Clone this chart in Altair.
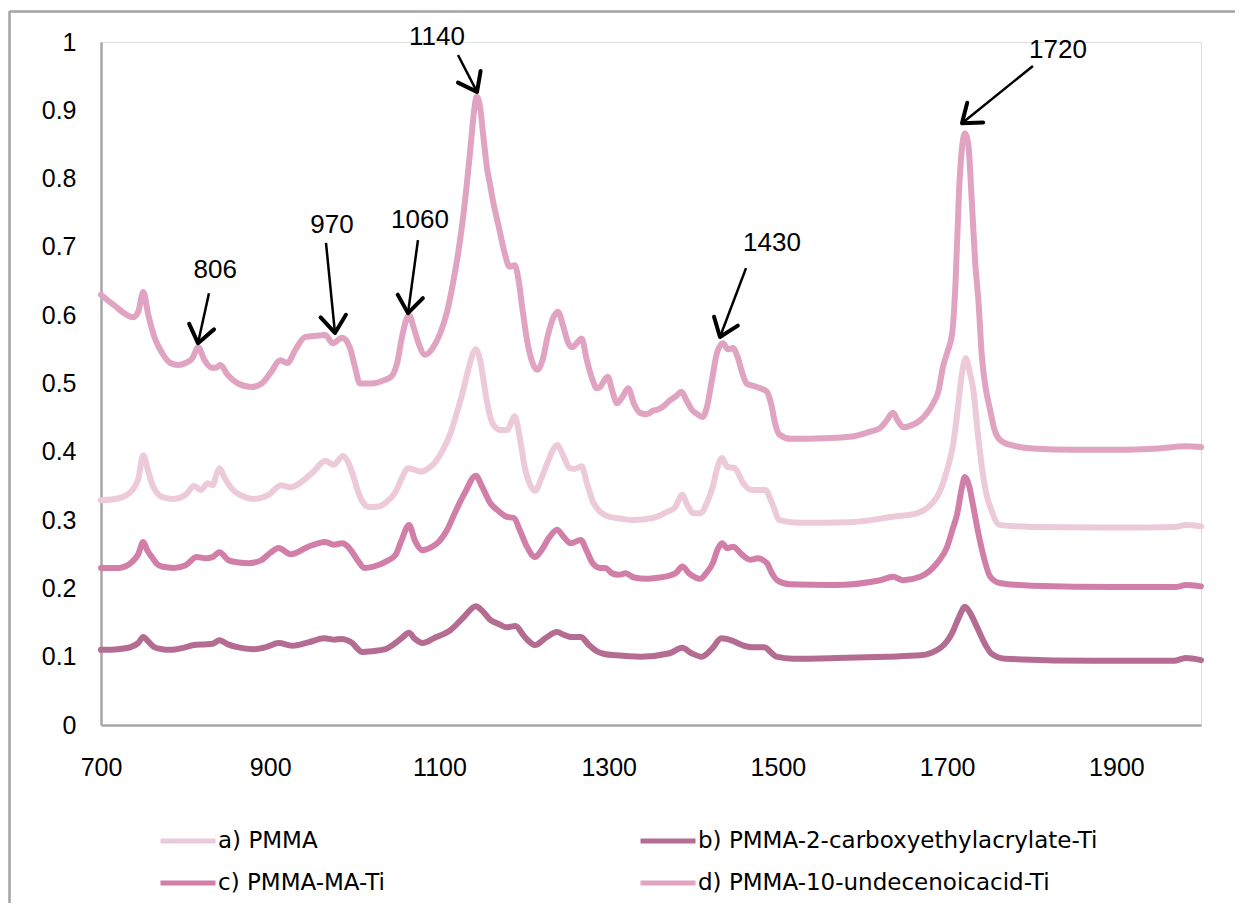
import altair as alt
import pandas as pd

# ---------------- data ----------------
series_names = ["a) PMMA", "b) PMMA-2-carboxyethylacrylate-Ti",
                "c) PMMA-MA-Ti", "d) PMMA-10-undecenoicacid-Ti"]
series_colors = ["#ECCAD9", "#B46C93", "#D17FA9", "#E0A3C1"]

a_x = [700, 721, 737, 744, 750, 755, 760, 766, 772, 786, 800, 810, 818, 826, 832, 836, 840, 846, 856, 866,
       880, 898, 913, 924, 940, 952, 965, 975, 986, 992, 997, 1003, 1008, 1017, 1028, 1038, 1048, 1055, 1063,
       1070, 1078, 1087, 1095, 1105, 1113, 1120, 1127, 1134, 1140, 1143, 1148, 1152, 1156, 1163, 1172, 1180,
       1189, 1195, 1201, 1207, 1213, 1220, 1227, 1233, 1239, 1246, 1254, 1260, 1268, 1274, 1281, 1290, 1298,
       1315, 1329, 1352, 1369, 1378, 1387, 1393, 1400, 1408, 1416, 1423, 1428, 1434, 1440, 1449, 1459, 1469,
       1485, 1493, 1502, 1526, 1585, 1636, 1664, 1688, 1701, 1707, 1712, 1717, 1722, 1726, 1731, 1736, 1741,
       1746, 1751, 1762, 1800, 1900, 1970, 1982, 2000]
a_y = [0.329, 0.332, 0.344, 0.360, 0.395, 0.375, 0.354, 0.340, 0.334, 0.331, 0.337, 0.350, 0.344, 0.354,
       0.351, 0.365, 0.376, 0.362, 0.344, 0.336, 0.331, 0.337, 0.351, 0.348, 0.359, 0.372, 0.387, 0.381,
       0.394, 0.385, 0.369, 0.345, 0.329, 0.319, 0.320, 0.327, 0.341, 0.360, 0.376, 0.374, 0.371, 0.376,
       0.385, 0.405, 0.427, 0.455, 0.485, 0.520, 0.545, 0.550, 0.535, 0.505, 0.474, 0.441, 0.432, 0.432,
       0.452, 0.420, 0.376, 0.352, 0.343, 0.360, 0.382, 0.400, 0.410, 0.395, 0.376, 0.375, 0.379, 0.355,
       0.328, 0.312, 0.306, 0.302, 0.300, 0.303, 0.312, 0.318, 0.337, 0.322, 0.310, 0.310, 0.325, 0.349,
       0.375, 0.391, 0.378, 0.376, 0.354, 0.344, 0.344, 0.325, 0.300, 0.296, 0.297, 0.305, 0.310, 0.334,
       0.378, 0.410, 0.457, 0.510, 0.537, 0.520, 0.490, 0.430, 0.378, 0.340, 0.319, 0.293, 0.290, 0.289,
       0.290, 0.293, 0.291]

b_x = [700, 720, 735, 744, 750, 756, 763, 772, 782, 797, 810, 822, 832, 840, 850, 861, 880, 895, 910, 926,
       945, 964, 975, 985, 991, 997, 1003, 1008, 1020, 1036, 1048, 1056, 1064, 1071, 1080, 1095, 1113, 1128,
       1143, 1150, 1160, 1170, 1179, 1190, 1200, 1213, 1225, 1239, 1247, 1255, 1267, 1276, 1286, 1295, 1309,
       1338, 1372, 1387, 1398, 1410, 1423, 1433, 1445, 1458, 1469, 1484, 1492, 1498, 1518, 1570, 1629, 1668,
       1692, 1706, 1714, 1721, 1728, 1735, 1745, 1752, 1769, 1871, 1968, 1982, 2000]
b_y = [0.110, 0.111, 0.114, 0.120, 0.129, 0.122, 0.114, 0.111, 0.110, 0.113, 0.117, 0.118, 0.119, 0.124,
       0.118, 0.114, 0.111, 0.114, 0.120, 0.116, 0.121, 0.127, 0.125, 0.126, 0.124, 0.120, 0.112, 0.107,
       0.108, 0.111, 0.120, 0.128, 0.135, 0.126, 0.120, 0.128, 0.139, 0.157, 0.174, 0.168, 0.154, 0.148,
       0.143, 0.145, 0.130, 0.117, 0.127, 0.136, 0.132, 0.129, 0.129, 0.118, 0.108, 0.104, 0.102, 0.100,
       0.105, 0.113, 0.105, 0.100, 0.113, 0.127, 0.124, 0.117, 0.114, 0.114, 0.106, 0.100, 0.097, 0.098,
       0.100, 0.102, 0.113, 0.135, 0.158, 0.173, 0.162, 0.144, 0.118, 0.105, 0.097, 0.094, 0.094, 0.098,
       0.095]

c_x = [700, 721, 737, 744, 750, 755, 760, 766, 772, 786, 800, 813, 824, 832, 840, 851, 863, 875, 889, 900,
       910, 924, 945, 965, 975, 985, 991, 997, 1004, 1011, 1022, 1036, 1048, 1055, 1064, 1071, 1080, 1090,
       1099, 1110, 1118, 1130, 1143, 1150, 1160, 1170, 1179, 1188, 1195, 1203, 1213, 1220, 1230, 1239, 1247,
       1255, 1267, 1274, 1281, 1290, 1296, 1304, 1312, 1320, 1330, 1345, 1360, 1370, 1380, 1387, 1395, 1408,
       1415, 1423, 1429, 1434, 1440, 1447, 1457, 1467, 1476, 1487, 1493, 1499, 1514, 1565, 1621, 1636, 1648,
       1668, 1688, 1700, 1706, 1712, 1717, 1721, 1726, 1731, 1737, 1742, 1751, 1762, 1800, 1900, 1970, 1982,
       2000]
c_y = [0.230, 0.230, 0.239, 0.250, 0.268, 0.255, 0.246, 0.236, 0.232, 0.230, 0.234, 0.246, 0.244, 0.246,
       0.253, 0.241, 0.238, 0.237, 0.241, 0.252, 0.259, 0.250, 0.261, 0.268, 0.264, 0.266, 0.262, 0.253,
       0.240, 0.230, 0.232, 0.239, 0.249, 0.270, 0.293, 0.270, 0.256, 0.260, 0.268, 0.288, 0.310, 0.340,
       0.365, 0.350, 0.325, 0.313, 0.305, 0.303, 0.285, 0.262, 0.246, 0.255, 0.275, 0.286, 0.275, 0.266,
       0.271, 0.255, 0.237, 0.230, 0.230, 0.222, 0.220, 0.222, 0.216, 0.214, 0.216, 0.218, 0.223, 0.232,
       0.222, 0.214, 0.222, 0.237, 0.258, 0.266, 0.259, 0.261, 0.250, 0.242, 0.244, 0.237, 0.222, 0.212,
       0.206, 0.205, 0.212, 0.217, 0.212, 0.217, 0.237, 0.261, 0.285, 0.310, 0.345, 0.363, 0.350, 0.319,
       0.280, 0.252, 0.217, 0.208, 0.204, 0.202, 0.202, 0.205, 0.203]

d_x = [700, 715, 738, 744, 750, 756, 764, 772, 782, 791, 800, 808, 815, 822, 831, 836, 841, 850, 862, 878,
       890, 900, 912, 920, 930, 941, 955, 965, 974, 985, 994, 1000, 1006, 1020, 1035, 1043, 1050, 1056, 1064,
       1070, 1075, 1083, 1092, 1101, 1109, 1116, 1122, 1128, 1133, 1137, 1141, 1144, 1148, 1152, 1156, 1160,
       1163, 1170, 1177, 1183, 1189, 1193, 1198, 1204, 1210, 1216, 1222, 1228, 1234, 1240, 1246, 1252, 1257,
       1263, 1268, 1274, 1281, 1286, 1290, 1295, 1299, 1304, 1310, 1316, 1323, 1330, 1337, 1345, 1352, 1358,
       1364, 1372, 1380, 1386, 1392, 1398, 1405, 1411, 1416, 1422, 1428, 1435, 1441, 1447, 1452, 1458, 1463,
       1475, 1487, 1492, 1497, 1502, 1515, 1526, 1555, 1585, 1610, 1621, 1628, 1636, 1642, 1648, 1656, 1668,
       1683, 1690, 1695, 1700, 1706, 1710, 1714, 1718, 1721, 1725, 1729, 1733, 1737, 1741, 1746, 1751, 1756,
       1762, 1775, 1801, 1850, 1900, 1950, 1982, 2000]
d_y = [0.630, 0.615, 0.597, 0.605, 0.634, 0.600, 0.565, 0.545, 0.530, 0.527, 0.530, 0.537, 0.553, 0.535,
       0.523, 0.523, 0.527, 0.512, 0.500, 0.495, 0.500, 0.515, 0.534, 0.530, 0.550, 0.568, 0.570, 0.571,
       0.559, 0.567, 0.553, 0.525, 0.500, 0.500, 0.505, 0.510, 0.530, 0.570, 0.600, 0.580, 0.560, 0.542,
       0.552, 0.574, 0.605, 0.647, 0.690, 0.744, 0.800, 0.850, 0.900, 0.920, 0.905, 0.860, 0.817, 0.790,
       0.769, 0.730, 0.691, 0.671, 0.673, 0.655, 0.610, 0.560, 0.530, 0.520, 0.535, 0.570, 0.595, 0.605,
       0.585, 0.560, 0.553, 0.560, 0.566, 0.535, 0.505, 0.493, 0.495, 0.505, 0.510, 0.490, 0.471, 0.480,
       0.493, 0.470, 0.457, 0.455, 0.460, 0.462, 0.466, 0.475, 0.482, 0.488, 0.475, 0.462, 0.455, 0.451,
       0.465, 0.505, 0.545, 0.559, 0.550, 0.552, 0.540, 0.515, 0.500, 0.495, 0.488, 0.470, 0.440, 0.425,
       0.419, 0.419, 0.420, 0.422, 0.430, 0.435, 0.445, 0.457, 0.445, 0.436, 0.438, 0.446, 0.470, 0.490,
       0.524, 0.545, 0.574, 0.650, 0.780, 0.850, 0.866, 0.850, 0.770, 0.680, 0.620, 0.540, 0.490, 0.460,
       0.432, 0.418, 0.410, 0.405, 0.403, 0.403, 0.405, 0.408, 0.407]

# peak annotations (label text, label position, arrow start, arrow tip)
ann_text = ["806", "970", "1060", "1140", "1430", "1720"]
ann_tx = [835, 973, 1077, 1097, 1493, 1831]
ann_ty = [0.666, 0.732, 0.739, 1.007, 0.706, 0.988]
arr_x1 = [827.6, 965.9, 1074.6, 1121.9, 1462.3, 1801.4]
arr_y1 = [0.632, 0.706, 0.710, 0.981, 0.669, 0.965]
arr_x2 = [814.6, 976.5, 1062.8, 1144.4, 1431.5, 1717.5]
arr_y2 = [0.559, 0.574, 0.603, 0.927, 0.568, 0.881]
arr_angle = [12.4, 354.3, 7.8, 332.8, 20.6, 51.2]

x_ticks = [700, 900, 1100, 1300, 1500, 1700, 1900]
y_ticks = [0, 0.1, 0.2, 0.3, 0.4, 0.5, 0.6, 0.7, 0.8, 0.9, 1]

# ---------------- build tables ----------------
rows = []
for name, xs, ys in zip(series_names, [a_x, b_x, c_x, d_x], [a_y, b_y, c_y, d_y]):
    for xv, yv in zip(xs, ys):
        rows.append({"series": name, "wn": xv, "abs": yv})
df = pd.DataFrame(rows)

ann = pd.DataFrame({"label": ann_text, "tx": ann_tx, "ty": ann_ty,
                    "x1": arr_x1, "y1": arr_y1, "x2": arr_x2, "y2": arr_y2,
                    "angle": arr_angle})

FONT = "Liberation Sans"
LEGEND_FONT = "DejaVu Sans"
xscale = alt.Scale(domain=[700, 2000], nice=False, zero=False)
yscale = alt.Scale(domain=[0, 1], nice=False)

lines = alt.Chart(df).mark_line(strokeWidth=6, interpolate="monotone",
                                strokeCap="round", strokeJoin="round").encode(
    x=alt.X("wn:Q", scale=xscale,
            axis=alt.Axis(values=x_ticks, format="d", title=None, grid=False,
                          ticks=False, tickSize=0, labelPadding=30, labelFlush=False,
                          labelFontSize=25, labelFont=FONT, labelColor="#000000",
                          domainColor="#A6A6A6", domainWidth=2.5)),
    y=alt.Y("abs:Q", scale=yscale,
            axis=alt.Axis(values=y_ticks, format=".1~f", title=None, grid=False,
                          ticks=False, tickSize=0, labelPadding=25, labelFlush=False,
                          labelFontSize=25, labelFont=FONT, labelColor="#000000",
                          domainColor="#A6A6A6", domainWidth=2.5)),
    color=alt.Color("series:N",
                    scale=alt.Scale(domain=series_names, range=series_colors),
                    legend=alt.Legend(title=None, orient="none", legendX=57, legendY=769,
                                      direction="horizontal",
                                      columns=2, columnPadding=244, rowPadding=-11,
                                      symbolType="stroke", symbolSize=3025,
                                      symbolStrokeWidth=5, labelFont=LEGEND_FONT,
                                      labelFontSize=23, labelColor="#000000",
                                      labelOffset=0, labelLimit=700)),
    detail="series:N",
)

shafts = alt.Chart(ann).mark_rule(color="#000000", strokeWidth=2.5).encode(
    x=alt.X("x1:Q", scale=xscale), y=alt.Y("y1:Q", scale=yscale),
    x2="x2:Q", y2="y2:Q")

heads = alt.Chart(ann).mark_point(shape="M-0.75,-1L0,0L0.75,-1", filled=False,
                                  color="#000000", strokeWidth=4, size=1150,
                                  opacity=1, strokeCap="round",
                                  strokeJoin="round").encode(
    x=alt.X("x2:Q", scale=xscale), y=alt.Y("y2:Q", scale=yscale),
    angle=alt.Angle("angle:Q", scale=None))

labels = alt.Chart(ann).mark_text(font=FONT, fontSize=26, color="#000000",
                                  align="center", baseline="middle").encode(
    x=alt.X("tx:Q", scale=xscale), y=alt.Y("ty:Q", scale=yscale), text="label:N")

# outer frame of the figure (top and left edges)
frame_top = alt.Chart(ann).mark_rule(color="#A6A6A6", strokeWidth=1.5).encode(
    x=alt.value(-91.5), x2=alt.value(1142), y=alt.value(-30.5))
frame_left = alt.Chart(ann).mark_rule(color="#A6A6A6", strokeWidth=1.5).encode(
    x=alt.value(-91.5), y=alt.value(-30.5), y2=alt.value(869))

chart = alt.layer(frame_top, frame_left, lines, shafts, heads, labels).properties(
    width=1100, height=683,
    autosize=alt.AutoSizeParams(type="none"),
    padding={"left": 93, "top": 34, "right": 34, "bottom": 178},
).configure_view(stroke=None).configure(background="#FFFFFF")

chart.save("out.html", embed_options={"renderer": "svg", "actions": False})
